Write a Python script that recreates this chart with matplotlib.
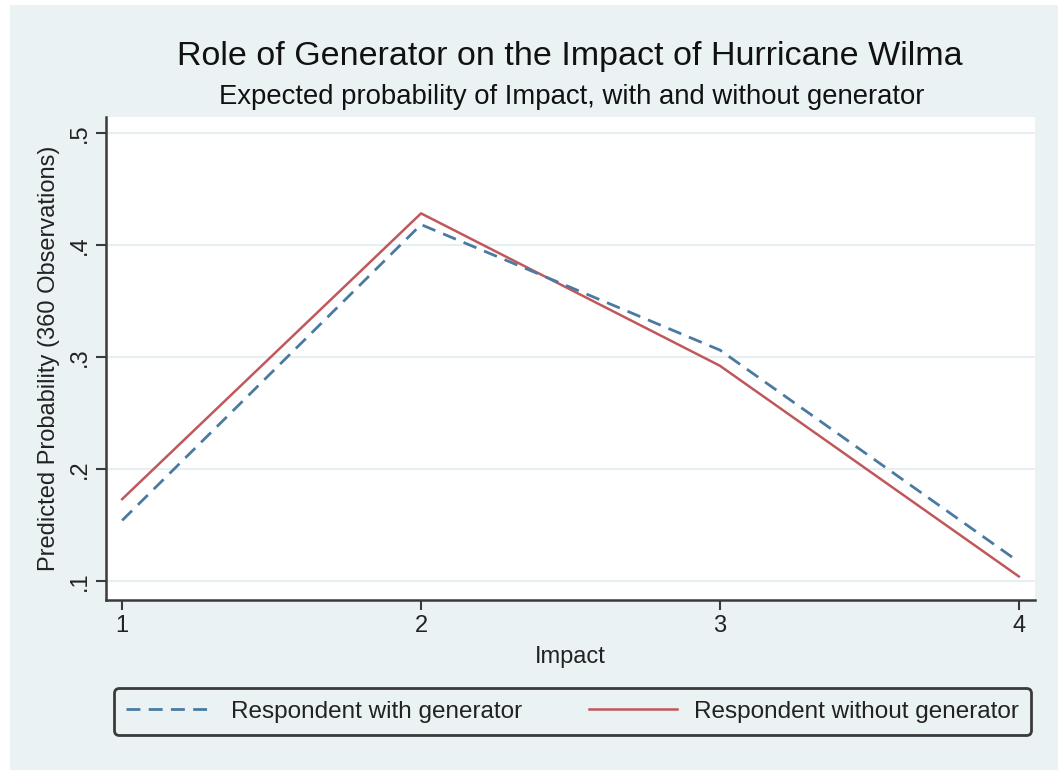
import numpy as np
import matplotlib
matplotlib.use("Agg")
from matplotlib import pyplot as plt
from matplotlib.patches import Rectangle

impact = [1, 2, 3, 4]
with_gen = [0.154, 0.418, 0.306, 0.117]
without_gen = [0.173, 0.428, 0.292, 0.104]
yticks = [0.1, 0.2, 0.3, 0.4, 0.5]
ytick_labels = [".1", ".2", ".3", ".4", ".5"]

plt.rcParams['font.family'] = ['Liberation Sans', 'DejaVu Sans']

W, H = 1058, 770
bg = "#EAF2F3"
blue = "#4A7AA2"
red = "#C0585B"
axcol = "#3A3A3A"
txt = "#222222"

fig = plt.figure(figsize=(W / 100, H / 100), dpi=100, facecolor="white")
# light outer region (white border at left/top like the reference)
fig.add_artist(Rectangle((10 / W, 0), 1 - 10 / W, 1 - 5 / H, transform=fig.transFigure,
                         facecolor=bg, edgecolor="none", zorder=-10))

ax = fig.add_axes([106 / W, 1 - 600 / H, (1035 - 106) / W, (600 - 117) / H])
ax.set_facecolor("white")

for y in yticks:
    ax.axhline(y, color="#E6EFF2", lw=1.5, zorder=1)

ax.plot(impact, with_gen, color=blue, lw=2.0, dashes=(5, 3), label="Respondent with generator", zorder=3)
ax.plot(impact, without_gen, color=red, lw=1.8, label="Respondent without generator", zorder=2)

ax.set_xlim(0.946, 4.054)
ax.set_ylim(0.083, 0.514)
ax.set_xticks(impact)
ax.set_xticklabels([str(i) for i in impact], fontsize=17, color=txt)
ax.set_yticks(yticks)
ax.set_yticklabels(ytick_labels, fontsize=17, color=txt, rotation=90, va="center")

for s in ["top", "right"]:
    ax.spines[s].set_visible(False)
for s in ["left", "bottom"]:
    ax.spines[s].set_color(axcol)
    ax.spines[s].set_linewidth(1.8)
ax.tick_params(axis="both", length=7, width=1.5, color=axcol, pad=4)

ax.set_xlabel("Impact", fontsize=17, color=txt, labelpad=6)
ax.set_ylabel("Predicted Probability (360 Observations)", fontsize=17, color=txt, labelpad=6)

fig.text(570 / W, 1 - 56 / H, "Role of Generator on the Impact of Hurricane Wilma",
         ha="center", va="center", fontsize=24.5, color="#111111")
fig.text(572 / W, 1 - 97 / H, "Expected probability of Impact, with and without generator",
         ha="center", va="center", fontsize=19.8, color="#111111")

leg = ax.legend(loc="center", ncol=2, mode="expand", fontsize=17.5,
                bbox_to_anchor=(102 / W, 1 - 740 / H, 941 / W, 57 / H),
                bbox_transform=fig.transFigure, frameon=True, fancybox=True,
                handlelength=3.6, handletextpad=0.7, borderpad=0.5, columnspacing=2.0)
frame = leg.get_frame()
frame.set_facecolor(bg)
frame.set_edgecolor(axcol)
frame.set_linewidth(2.0)
frame.set_alpha(1)
for t in leg.get_texts():
    t.set_color(txt)

fig.savefig("out.png", dpi=100, facecolor="white")
